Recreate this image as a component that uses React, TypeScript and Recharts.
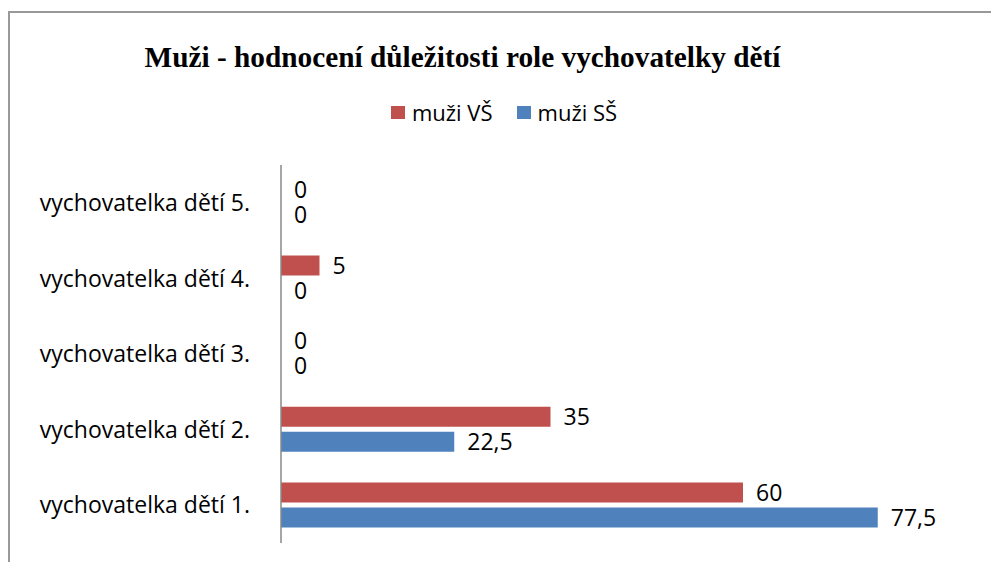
import React from 'react';
import { BarChart, Bar, XAxis, YAxis, LabelList, Legend } from 'recharts';

const categories = ['vychovatelka dětí 5.', 'vychovatelka dětí 4.', 'vychovatelka dětí 3.', 'vychovatelka dětí 2.', 'vychovatelka dětí 1.'];
const muziVS = [0, 5, 0, 35, 60];
const muziSS = [0, 0, 0, 22.5, 77.5];
const seriesNames = ['muži VŠ', 'muži SŠ'];
const colors = ['#C0504D', '#4F81BD'];
const title = 'Muži - hodnocení důležitosti role vychovatelky dětí';

const data = categories.map((c, i) => ({ name: c, vs: muziVS[i], ss: muziSS[i] }));

const fmt = (v: any) => String(v).replace('.', ',');
const FONT = '"Open Sans"';

const LegendContent = () => (
  <div style={{ display: 'flex', justifyContent: 'center', alignItems: 'center', fontFamily: FONT, fontSize: 22, color: '#000', lineHeight: '26px' }}>
    {seriesNames.map((n, i) => (
      <div key={n} style={{ display: 'flex', alignItems: 'center', marginRight: i === 0 ? 24 : 0 }}>
        <span style={{ display: 'inline-block', width: 14, height: 13, background: colors[i], marginRight: 7 }} />
        <span>{n}</span>
      </div>
    ))}
  </div>
);

export default function App() {
  return (
    <div style={{ position: 'absolute', left: 0, top: 0, width: 991, height: 562, background: '#fff', overflow: 'hidden' }}>
      <div style={{ position: 'absolute', left: 8, top: 11, width: 1000, height: 600, borderTop: '2px solid #999', borderLeft: '2px solid #999' }} />
      <div style={{ position: 'absolute', left: 0, top: 40, width: 925, textAlign: 'center', fontFamily: '"Liberation Serif"', fontWeight: 'bold', fontSize: 29.3, color: '#000', lineHeight: '34px' }}>
        {title}
      </div>
      <div style={{ position: 'absolute', left: 0, top: 0 }}>
        <BarChart
          width={991}
          height={562}
          data={data}
          layout="vertical"
          margin={{ top: 165, right: 94, bottom: 19, left: 0 }}
          barSize={20}
          barGap={5}
        >
          <XAxis type="number" domain={[0, 80]} hide />
          <YAxis
            type="category"
            dataKey="name"
            width={281}
            tickLine={false}
            tickSize={0}
            tickMargin={31}
            axisLine={{ stroke: '#888', strokeWidth: 1.5 }}
            tick={{ fill: '#000', fontFamily: FONT, fontSize: 23 }}
          />
          <Legend verticalAlign="middle" align="center" layout="horizontal" wrapperStyle={{ top: 99, left: 0, width: 1008 }} content={<LegendContent />} />
          <Bar dataKey="vs" name={seriesNames[0]} fill={colors[0]} minPointSize={0.01} isAnimationActive={false}>
            <LabelList dataKey="vs" position="right" offset={13} formatter={fmt} style={{ fill: '#000', fontFamily: FONT, fontSize: 23 }} />
          </Bar>
          <Bar dataKey="ss" name={seriesNames[1]} fill={colors[1]} minPointSize={0.01} isAnimationActive={false}>
            <LabelList dataKey="ss" position="right" offset={13} formatter={fmt} style={{ fill: '#000', fontFamily: FONT, fontSize: 23 }} />
          </Bar>
        </BarChart>
      </div>
    </div>
  );
}
